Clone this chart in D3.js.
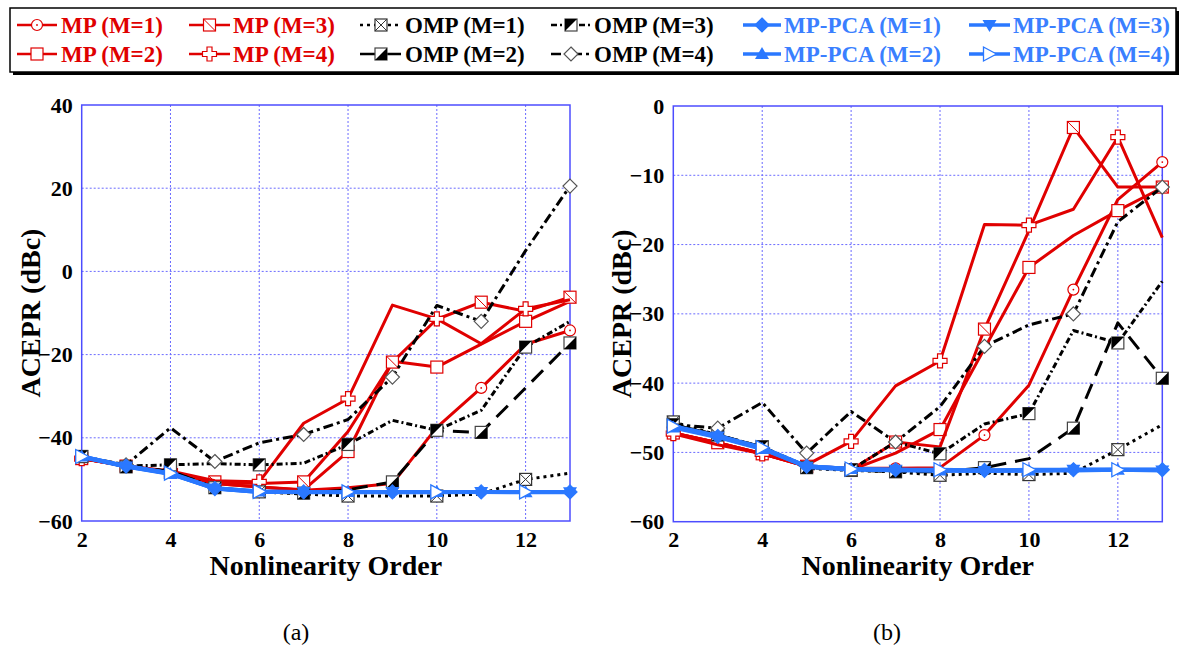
<!DOCTYPE html>
<html>
<head>
<meta charset="utf-8">
<script src="https://cdn.jsdelivr.net/npm/d3@7"></script>
<style>
  body { margin: 0; background: #fff; }
  svg text { font-family: "Liberation Serif", "Times New Roman", serif; }
</style>
</head>
<body>
<div id="chart"></div>
<script>
// nonlinearity orders on the x axis
const orders = [2, 3, 4, 5, 6, 7, 8, 9, 10, 11, 12, 13];

// panel (a) ACEPR values (dBc)
const mp1A = [-45, -46.8, -48.3, -51, -51.8, -52.6, -52, -51, -37.5, -28, -17.5, -14.2];
const mp2A = [-45, -46.8, -48.3, -51, -51.8, -52.5, -43.3, -21.6, -23, -17.5, -12, -7.2];
const mp3A = [-45, -46.8, -48.3, -50.6, -51, -50.6, -38.5, -21.8, -11.5, -7.4, -9.6, -6.2];
const mp4A = [-45, -46.8, -48, -50.3, -50.6, -36.5, -30.6, -8.1, -11.4, -17.4, -9, -6.8];
const omp1A = [-44.5, -47, -48, -52, -53, -53.5, -54, -54, -54, -53.5, -50, -48.5];
const omp2A = [-44.5, -47, -48, -52, -53, -53.3, -52.5, -50.6, -38.3, -38.7, -28, -17.2];
const omp3A = [-44.5, -46.8, -46.5, -46.2, -46.5, -46.1, -41.6, -35.8, -38.2, -33.4, -18.2, -12];
const omp4A = [-44.5, -46.5, -37.6, -45.7, -41.2, -39.2, -35.6, -25.4, -8.2, -12, 5, 20.5];
const pca1A = [-44.5, -46.8, -48.6, -52.2, -53, -53, -53, -53, -53, -53, -53, -53];
const pca2A = [-44.5, -46.9, -48.7, -52.1, -52.9, -53.1, -53, -53.1, -53, -53, -53.1, -53];
const pca3A = [-44.6, -46.9, -48.6, -52.2, -53, -53, -53.1, -53, -53.1, -53, -53, -53.1];
const pca4A = [-44.5, -46.8, -48.5, -52.1, -52.9, -53, -53, -53, -53, -53, -53, -53];

// panel (b) ACEPR values (dBc)
const mp1B = [-47.2, -48.6, -50.2, -52, -52.3, -52.3, -52.2, -47.5, -40.3, -26.5, -13.5, -8.1];
const mp2B = [-47.2, -48.6, -50.2, -52, -52.5, -50.1, -46.7, -35, -23.3, -18.7, -15.1, -11.8];
const mp3B = [-47.2, -48.6, -50.2, -52, -52.5, -48.5, -49.2, -32.2, -18, -3.1, -11.7, -11.7];
const mp4B = [-47.3, -48.9, -50.2, -51.8, -48.4, -40.4, -36.8, -17.1, -17.2, -14.9, -4.5, -19];
const omp1B = [-45.6, -47.5, -49.2, -52.3, -52.6, -52.8, -53.3, -53, -53.2, -53, -49.6, -46];
const omp2B = [-46, -47.5, -49.2, -52.2, -52.5, -52.8, -52.8, -52.2, -50.9, -46.5, -31.3, -39.3];
const omp3B = [-46, -47.5, -49.2, -52, -52.5, -48.5, -50.2, -45.9, -44.4, -32.4, -34.2, -25.3];
const omp4B = [-46, -46.5, -42.8, -50.1, -44.1, -48.5, -43.4, -34.7, -31.6, -30, -16.7, -11.7];
const pca1B = [-46.3, -47.7, -49.4, -52, -52.4, -52.5, -52.6, -52.6, -52.6, -52.5, -52.5, -52.5];
const pca2B = [-46.4, -47.8, -49.5, -52, -52.4, -52.6, -52.6, -52.6, -52.6, -52.6, -52.5, -52.5];
const pca3B = [-46.3, -47.7, -49.4, -52.1, -52.5, -52.5, -52.6, -52.7, -52.6, -52.5, -52.5, -52.6];
const pca4B = [-46.2, -47.6, -49.3, -52, -52.4, -52.5, -52.5, -52.6, -52.5, -52.5, -52.5, -52.5];

// tick labels
const xTicks = [2, 4, 6, 8, 10, 12];
const yTicksA = [40, 20, 0, -20, -40, -60];
const yTicksB = [0, -10, -20, -30, -40, -50, -60];

const RED = "#e00000", BLACK = "#000", BLUE = "#2a78ff";

// series styles, in drawing order (red first, blue on top)
const series = [
  { key: "mp1", label: "MP (M=1)", color: RED, dash: null, width: 3, marker: "circle", odd: true },
  { key: "mp2", label: "MP (M=2)", color: RED, dash: null, width: 3, marker: "square", odd: false },
  { key: "mp3", label: "MP (M=3)", color: RED, dash: null, width: 3, marker: "slash", odd: true },
  { key: "mp4", label: "MP (M=4)", color: RED, dash: null, width: 3, marker: "cross", odd: false },
  { key: "omp1", label: "OMP (M=1)", color: BLACK, dash: "3,4", width: 3, marker: "xsq", odd: false },
  { key: "omp2", label: "OMP (M=2)", color: BLACK, dash: "16,9", width: 3, marker: "halfLR", odd: true },
  { key: "omp3", label: "OMP (M=3)", color: BLACK, dash: "6,3,2,3", width: 3, marker: "halfUL", odd: false },
  { key: "omp4", label: "OMP (M=4)", color: BLACK, dash: "10,4,3,4", width: 3, marker: "diamond", odd: true },
  { key: "pca1", label: "MP-PCA (M=1)", color: BLUE, dash: null, width: 4, marker: "fdiamond", odd: true },
  { key: "pca2", label: "MP-PCA (M=2)", color: BLUE, dash: null, width: 4, marker: "triup", odd: false },
  { key: "pca3", label: "MP-PCA (M=3)", color: BLUE, dash: null, width: 4, marker: "tridown", odd: true },
  { key: "pca4", label: "MP-PCA (M=4)", color: BLUE, dash: null, width: 4, marker: "triright", odd: false }
];

const panels = [
  {
    x0: 81.7, x1: 570, yTop: 105, yBot: 521, yDomain: [-60, 40], yTicks: yTicksA,
    titleX: 30, caption: "(a)", capX: 296,
    data: { mp1: mp1A, mp2: mp2A, mp3: mp3A, mp4: mp4A, omp1: omp1A, omp2: omp2A, omp3: omp3A, omp4: omp4A,
            pca1: pca1A, pca2: pca2A, pca3: pca3A, pca4: pca4A }
  },
  {
    x0: 673.3, x1: 1162.3, yTop: 106, yBot: 521.7, yDomain: [-60, 0], yTicks: yTicksB,
    titleX: 621, caption: "(b)", capX: 887,
    data: { mp1: mp1B, mp2: mp2B, mp3: mp3B, mp4: mp4B, omp1: omp1B, omp2: omp2B, omp3: omp3B, omp4: omp4B,
            pca1: pca1B, pca2: pca2B, pca3: pca3B, pca4: pca4B }
  }
];

const svg = d3.select("#chart")
  .append("svg")
  .attr("width", 1186)
  .attr("height", 649);

// draw one marker centred at (0,0) inside g
function drawMarker(g, type, color) {
  const s = 6;
  if (type === "circle") {
    g.append("circle").attr("r", 5.5).attr("fill", "#fff").attr("stroke", color).attr("stroke-width", 1.2);
    g.append("circle").attr("r", 0.9).attr("fill", color);
  } else if (type === "square" || type === "slash") {
    g.append("rect").attr("x", -s).attr("y", -s).attr("width", 2 * s).attr("height", 2 * s)
      .attr("fill", "#fff").attr("stroke", color).attr("stroke-width", 1.2);
    if (type === "slash") {
      g.append("line").attr("x1", -s).attr("y1", -s).attr("x2", s).attr("y2", s)
        .attr("stroke", color).attr("stroke-width", 1);
    }
  } else if (type === "cross") {
    const a = 2.5, b = 7;
    g.append("path")
      .attr("d", `M${-a},${-b}H${a}V${-a}H${b}V${a}H${a}V${b}H${-a}V${a}H${-b}V${-a}H${-a}Z`)
      .attr("fill", "#fff").attr("stroke", color).attr("stroke-width", 1.2);
  } else if (type === "xsq") {
    g.append("rect").attr("x", -s).attr("y", -s).attr("width", 2 * s).attr("height", 2 * s)
      .attr("fill", "#fff").attr("stroke", "#333").attr("stroke-width", 1.2);
    g.append("path").attr("d", `M${-s},${-s}L${s},${s}M${s},${-s}L${-s},${s}`)
      .attr("stroke", "#333").attr("stroke-width", 1);
  } else if (type === "halfLR" || type === "halfUL") {
    g.append("rect").attr("x", -s).attr("y", -s).attr("width", 2 * s).attr("height", 2 * s)
      .attr("fill", "#fff").attr("stroke", "#444").attr("stroke-width", 1.2);
    const tri = type === "halfLR" ? `M${s},${-s}L${s},${s}L${-s},${s}Z` : `M${-s},${-s}L${s},${-s}L${-s},${s}Z`;
    g.append("path").attr("d", tri).attr("fill", "#000");
  } else if (type === "diamond" || type === "fdiamond") {
    const d = 7;
    g.append("path").attr("d", `M0,${-d}L${d},0L0,${d}L${-d},0Z`)
      .attr("fill", type === "diamond" ? "#fff" : color)
      .attr("stroke", type === "diamond" ? "#555" : color).attr("stroke-width", 1.2);
  } else if (type === "triup") {
    g.append("path").attr("d", "M0,-7L7,5L-7,5Z").attr("fill", color);
  } else if (type === "tridown") {
    g.append("path").attr("d", "M0,7L7,-5L-7,-5Z").attr("fill", color);
  } else if (type === "triright") {
    g.append("path").attr("d", "M7,0L-6,-7L-6,7Z").attr("fill", "#fff")
      .attr("stroke", color).attr("stroke-width", 1.3);
  }
}

panels.forEach(function (p) {
  const x = d3.scaleLinear().domain([2, 13]).range([p.x0, p.x1]);
  const y = d3.scaleLinear().domain(p.yDomain).range([p.yBot, p.yTop]);

  // gridlines
  const grid = svg.append("g");
  grid.selectAll("line.v").data(xTicks.slice(1)).enter().append("line")
    .attr("x1", d => x(d)).attr("x2", d => x(d)).attr("y1", p.yTop).attr("y2", p.yBot)
    .attr("stroke", "#6a6aff").attr("stroke-width", 1).attr("stroke-dasharray", "2,2");
  grid.selectAll("line.h").data(p.yTicks.slice(1, -1)).enter().append("line")
    .attr("x1", p.x0).attr("x2", p.x1).attr("y1", d => y(d)).attr("y2", d => y(d))
    .attr("stroke", "#6a6aff").attr("stroke-width", 1).attr("stroke-dasharray", "2,2");

  // frame
  svg.append("rect")
    .attr("x", p.x0).attr("y", p.yTop)
    .attr("width", p.x1 - p.x0).attr("height", p.yBot - p.yTop)
    .attr("fill", "none").attr("stroke", "#4d4dff").attr("stroke-width", 1.5);

  // axes (labels only, lines drawn by the frame)
  const leftAxis = d3.axisLeft(y).tickValues(p.yTicks).tickSize(0).tickPadding(9);
  const gy = svg.append("g").attr("transform", `translate(${p.x0},0)`).call(leftAxis);
  gy.select(".domain").remove();
  gy.selectAll("text")
    .attr("font-family", "Liberation Serif").attr("font-weight", "bold")
    .attr("font-size", 22).attr("fill", "#000");

  const bottomAxis = d3.axisBottom(x).tickValues(xTicks).tickSize(0).tickPadding(10);
  const gx = svg.append("g").attr("transform", `translate(0,${p.yBot})`).call(bottomAxis);
  gx.select(".domain").remove();
  gx.selectAll("text")
    .attr("font-family", "Liberation Serif").attr("font-weight", "bold")
    .attr("font-size", 22).attr("fill", "#000");

  // axis titles
  svg.append("text")
    .attr("transform", `translate(${p.titleX},${(p.yTop + p.yBot) / 2}) rotate(-90)`)
    .attr("text-anchor", "middle").attr("dominant-baseline", "central")
    .attr("font-weight", "bold").attr("font-size", 28)
    .text("ACEPR (dBc)");

  svg.append("text")
    .attr("x", (p.x0 + p.x1) / 2).attr("y", 575)
    .attr("text-anchor", "middle")
    .attr("font-weight", "bold").attr("font-size", 28)
    .text("Nonlinearity Order");

  svg.append("text")
    .attr("x", p.capX).attr("y", 640)
    .attr("text-anchor", "middle")
    .attr("font-size", 24)
    .text(p.caption);

  // series lines and markers
  const line = d3.line().x(d => x(d[0])).y(d => y(d[1]));
  series.forEach(function (s) {
    const pts = orders.map((o, i) => [o, p.data[s.key][i]]);
    svg.append("path")
      .datum(pts)
      .attr("d", line)
      .attr("fill", "none")
      .attr("stroke", s.color)
      .attr("stroke-width", s.width)
      .attr("stroke-linejoin", "round")
      .attr("stroke-dasharray", s.dash);
    pts.filter(d => (d[0] % 2 === 1) === s.odd).forEach(function (d) {
      const g = svg.append("g").attr("transform", `translate(${x(d[0])},${y(d[1])})`);
      drawMarker(g, s.marker, s.color);
    });
  });
});

// legend
const legend = svg.append("g");
legend.append("rect").attr("x", 13).attr("y", 11).attr("width", 1166).attr("height", 64).attr("fill", "#000");
legend.append("rect").attr("x", 10).attr("y", 8).attr("width", 1166).attr("height", 64)
  .attr("fill", "#fff").attr("stroke", "#000").attr("stroke-width", 1.5);

const legendCols = [
  { sx0: 17, sx1: 57, tx: 61 },
  { sx0: 189, sx1: 230, tx: 233 },
  { sx0: 360, sx1: 402, tx: 405 },
  { sx0: 551, sx1: 591, tx: 594 },
  { sx0: 743, sx1: 781, tx: 784 },
  { sx0: 969, sx1: 1010, tx: 1013 }
];
const legendRows = [25, 54];

series.forEach(function (s, i) {
  const c = legendCols[Math.floor(i / 2)];
  const ry = legendRows[i % 2];
  legend.append("line")
    .attr("x1", c.sx0).attr("x2", c.sx1).attr("y1", ry).attr("y2", ry)
    .attr("stroke", s.color).attr("stroke-width", s.width - 0.5)
    .attr("stroke-dasharray", s.dash);
  const g = legend.append("g").attr("transform", `translate(${(c.sx0 + c.sx1) / 2},${ry})`);
  drawMarker(g, s.marker, s.color);
  legend.append("text")
    .attr("x", c.tx).attr("y", ry).attr("dominant-baseline", "central")
    .attr("font-weight", "bold").attr("font-size", 23)
    .attr("fill", s.color === BLUE ? "#3a7fff" : s.color)
    .text(s.label);
});
</script>
</body>
</html>
